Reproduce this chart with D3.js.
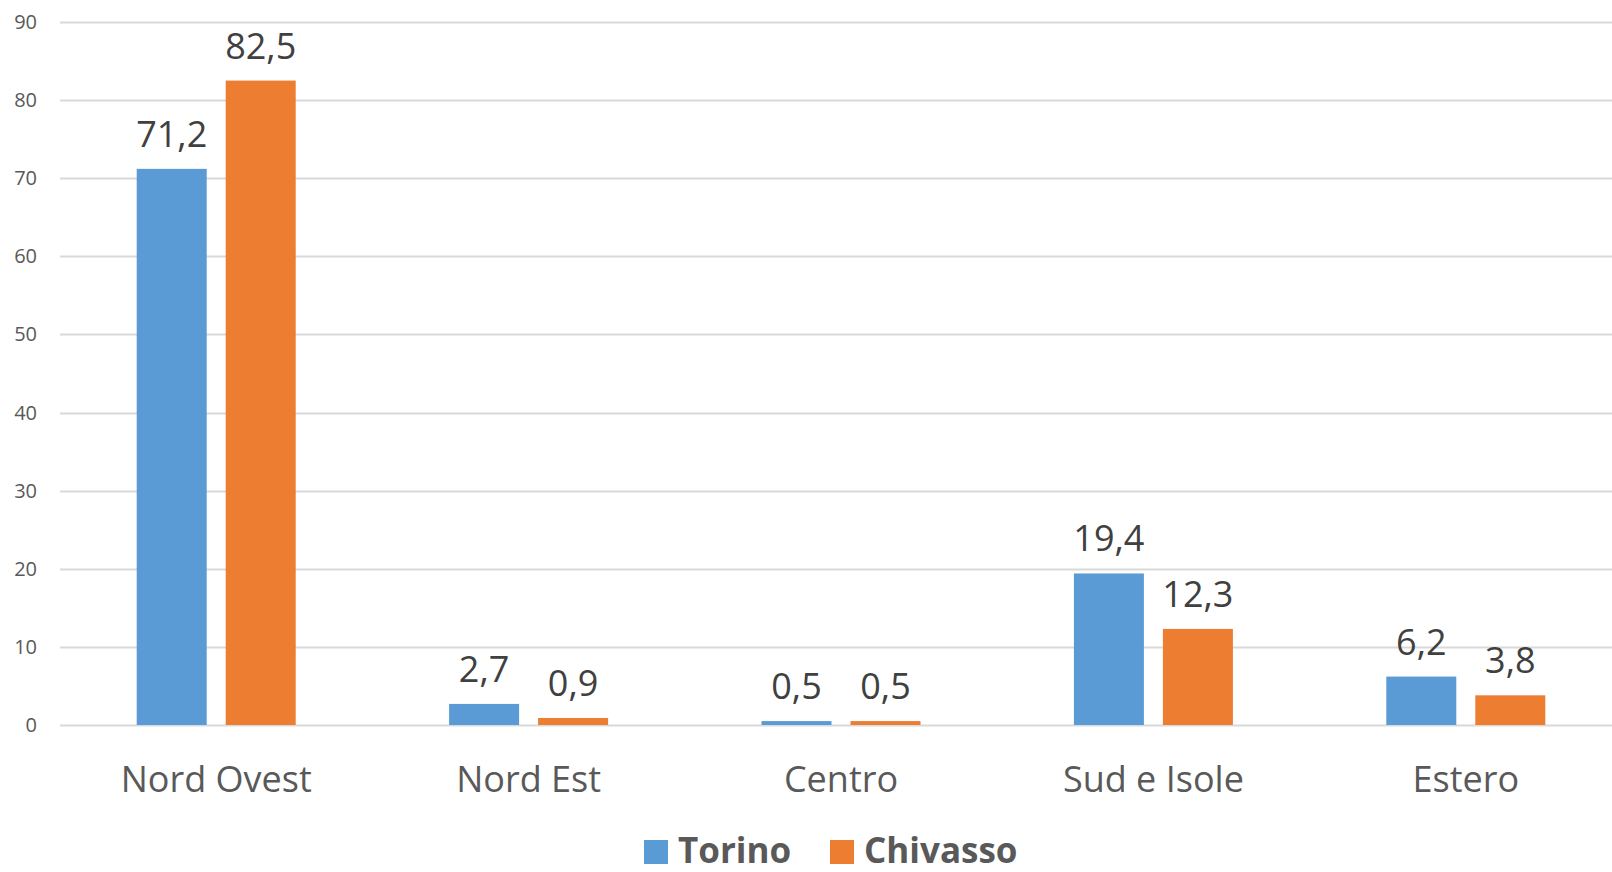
<!DOCTYPE html>
<html>
<head>
<meta charset="utf-8">
<script src="https://cdn.jsdelivr.net/npm/d3@7"></script>
<style>
  body { margin: 0; background: #fff; }
  svg { display: block; font-family: "Open Sans", "Noto Sans", sans-serif; }
</style>
</head>
<body>
<div id="chart"></div>
<script>
// chart data
const categories = ["Nord Ovest", "Nord Est", "Centro", "Sud e Isole", "Estero"];
const seriesNames = ["Torino", "Chivasso"];
const torino = [71.2, 2.7, 0.5, 19.4, 6.2];
const chivasso = [82.5, 0.9, 0.5, 12.3, 3.8];
const yTicks = [0, 10, 20, 30, 40, 50, 60, 70, 80, 90];
const colors = ["#5B9BD5", "#ED7D31"];

const width = 1612, height = 872;
const margin = {top: 22, bottom: 147, left: 60};
// plot area runs a little past the right edge of the picture
const plotRight = 1622;

const svg = d3.select("#chart").append("svg")
    .attr("width", width)
    .attr("height", height);

const x0 = d3.scaleBand()
    .domain(categories)
    .range([margin.left, plotRight]);

// two 70px bars with a 19px gap
const groupWidth = 159;
const x1 = d3.scaleBand()
    .domain(seriesNames)
    .range([0, groupWidth])
    .paddingInner(19 / 89);

const y = d3.scaleLinear()
    .domain([0, 90])
    .range([height - margin.bottom, margin.top]);

// grid lines
svg.append("g")
    .selectAll("line")
    .data(yTicks)
    .enter().append("line")
    .attr("x1", margin.left)
    .attr("x2", width)
    .attr("y1", d => Math.round(y(d)) + 0.5)
    .attr("y2", d => Math.round(y(d)) + 0.5)
    .attr("stroke", "#D9D9D9")
    .attr("stroke-width", 2);

// y tick labels
svg.append("g")
    .selectAll("text")
    .data(yTicks)
    .enter().append("text")
    .attr("x", 37)
    .attr("y", d => y(d) + 7)
    .attr("text-anchor", "end")
    .attr("fill", "#595959")
    .attr("font-size", "20px")
    .text(d => d);

const rows = categories.map((c, i) => ({
    cat: c,
    values: [
        {name: seriesNames[0], value: torino[i]},
        {name: seriesNames[1], value: chivasso[i]}
    ]
}));

const groups = svg.append("g")
    .selectAll("g")
    .data(rows)
    .enter().append("g")
    .attr("transform", d => "translate(" + (x0(d.cat) + x0.bandwidth() / 2 - groupWidth / 2) + ",0)");

groups.selectAll("rect")
    .data(d => d.values)
    .enter().append("rect")
    .attr("x", d => x1(d.name))
    .attr("width", x1.bandwidth())
    .attr("y", d => y(d.value))
    .attr("height", d => y(0) - y(d.value))
    .attr("fill", (d, i) => colors[i]);

// data labels
groups.selectAll("text")
    .data(d => d.values)
    .enter().append("text")
    .attr("x", d => x1(d.name) + x1.bandwidth() / 2)
    .attr("y", d => y(d.value) - 22)
    .attr("text-anchor", "middle")
    .attr("fill", "#404040")
    .attr("font-size", "36px")
    .text(d => d3.format(".1f")(d.value).replace(".", ","));

// category labels
svg.append("g")
    .selectAll("text")
    .data(categories)
    .enter().append("text")
    .attr("x", d => x0(d) + x0.bandwidth() / 2)
    .attr("y", 792)
    .attr("text-anchor", "middle")
    .attr("fill", "#595959")
    .attr("font-size", "36px")
    .text(d => d);

// legend
const legendX = [644, 830];
const legend = svg.append("g")
    .selectAll("g")
    .data(seriesNames)
    .enter().append("g")
    .attr("transform", (d, i) => "translate(" + legendX[i] + ",840)");

legend.append("rect")
    .attr("width", 24)
    .attr("height", 24)
    .attr("fill", (d, i) => colors[i]);

legend.append("text")
    .attr("x", 34)
    .attr("y", 23)
    .attr("fill", "#595959")
    .attr("font-size", "35px")
    .attr("font-weight", "bold")
    .text(d => d);
</script>
</body>
</html>
